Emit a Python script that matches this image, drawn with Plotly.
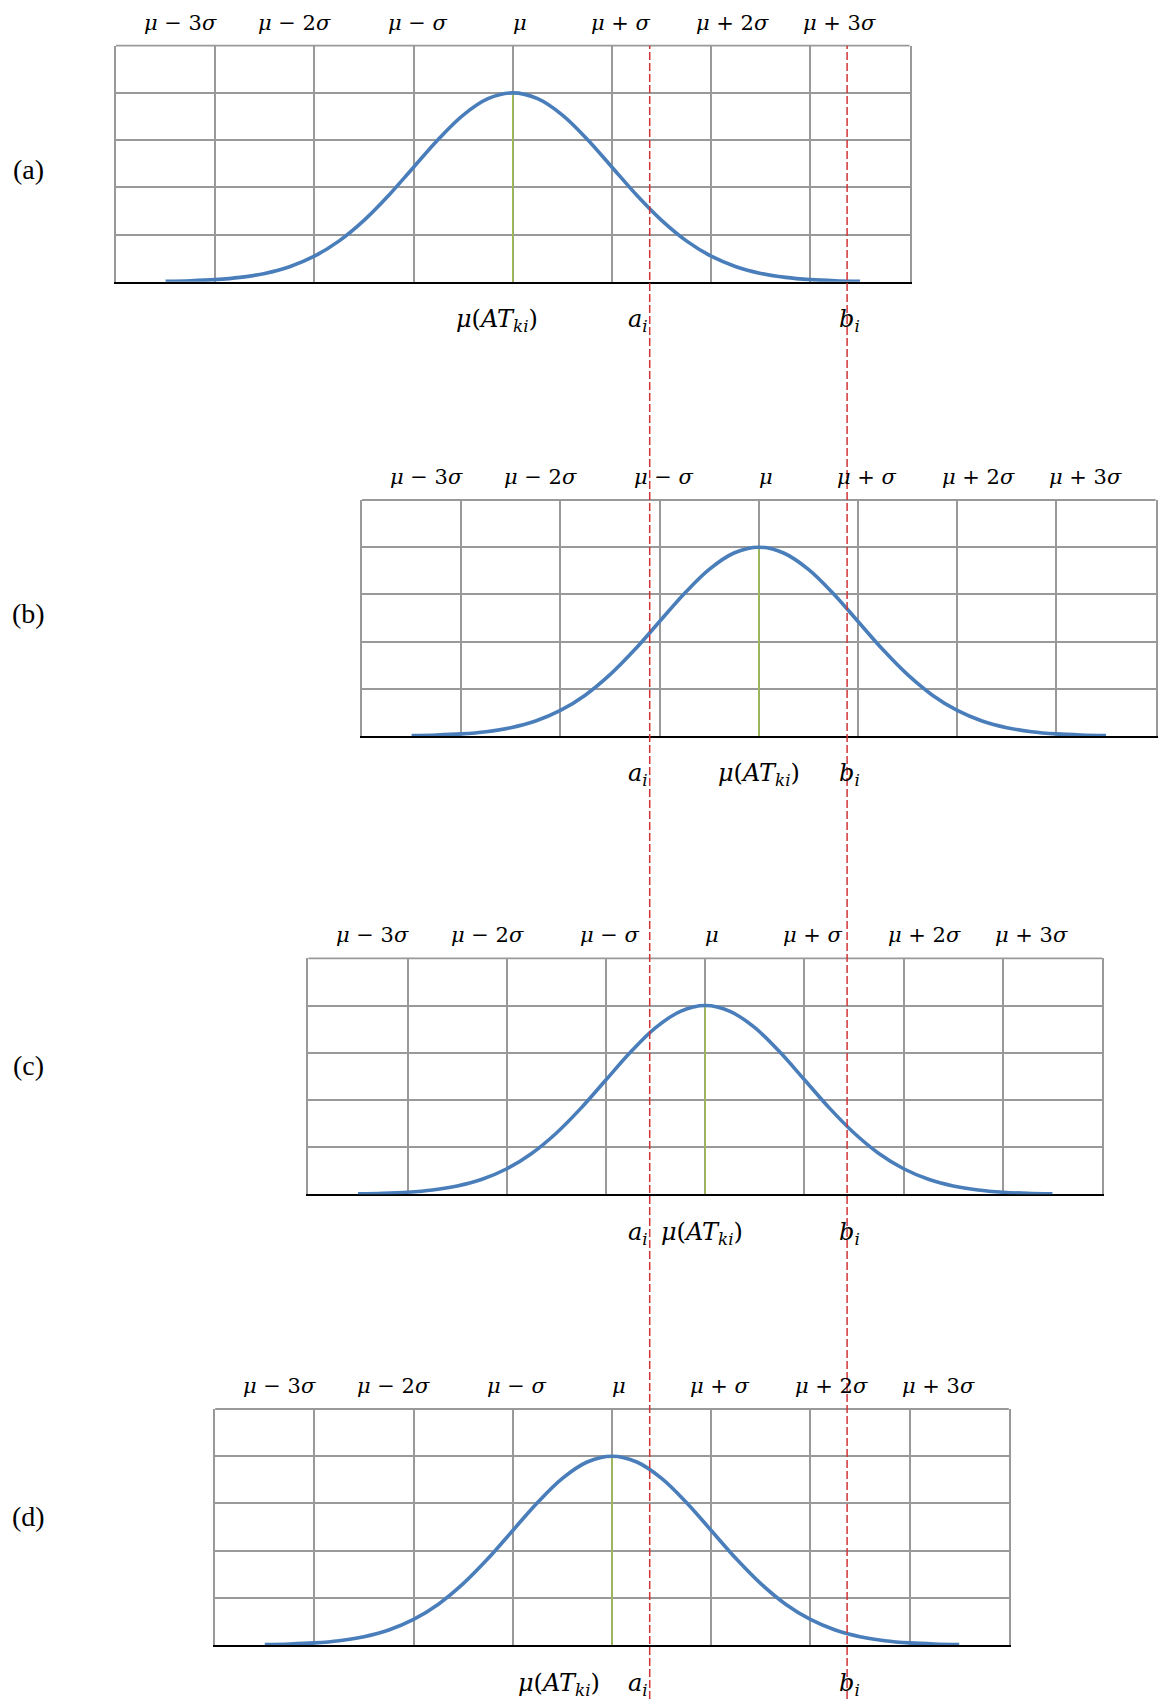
import plotly.graph_objects as go

# Bell curve profile: height (in grid rows) at offsets from the mean, in sigma units
sigma_offsets = [-3.5, -3.25, -3.0, -2.75, -2.5, -2.25, -2.0, -1.75, -1.5, -1.25,
                 -1.0, -0.75, -0.5, -0.25, 0.0, 0.25, 0.5, 0.75, 1.0, 1.25,
                 1.5, 1.75, 2.0, 2.25, 2.5, 2.75, 3.0, 3.25, 3.5]
curve_heights = [0.009, 0.020, 0.044, 0.091, 0.176, 0.318, 0.541, 0.865, 1.299, 1.831,
                 2.426, 3.019, 3.530, 3.877, 4.000, 3.877, 3.530, 3.019, 2.426, 1.831,
                 1.299, 0.865, 0.541, 0.318, 0.176, 0.091, 0.044, 0.020, 0.009]

# Four cases: mean of AT_ki relative to the fixed interval [a_i, b_i]
panel_names = ["(a)", "(b)", "(c)", "(d)"]
panel_means = [0.0, 2.48, 1.94, 1.0]
a_i = 1.38
b_i = 3.37

# Sigma labels along the top of every panel (offsets from the mean)
top_labels = [
    "<i>μ</i> − 3<i>σ</i>",
    "<i>μ</i> − 2<i>σ</i>",
    "<i>μ</i> − <i>σ</i>",
    "<i>μ</i>",
    "<i>μ</i> + <i>σ</i>",
    "<i>μ</i> + 2<i>σ</i>",
    "<i>μ</i> + 3<i>σ</i>",
]
top_label_offsets = [-3.35, -2.2, -0.96, 0.07, 1.09, 2.21, 3.29]

mean_label = "<i>μ</i>(<i>AT</i><sub><i>ki</i></sub>)"
a_label = "<i>a</i><sub><i>i</i></sub>"
b_label = "<i>b</i><sub><i>i</i></sub>"
mean_label_offsets = [-0.16, 0.0, -0.03, -0.53]
a_label_offset = -0.12
b_label_offset = 0.02

# Page geometry (pixels)
PAGE_W, PAGE_H = 1160, 1699
COL_PX = 99.2          # width of one sigma column
N_COLS, N_ROWS = 8, 5
BASE_LEFT = 116.0      # left edge of panel (a)
PANEL_TOPS = [45.7, 500.0, 958.3, 1409.0]
PANEL_H = 236.0
PANEL_LABEL_Y = [170.0, 614.0, 1065.0, 1516.0]

GRID = "#999999"
BLUE = "#4a7ebb"
GREEN = "#9fbf4a"
RED = "#cf3336"
MATH_FONT = "DejaVu Serif"

fig = go.Figure()
annotations = []
layout_axes = {}

for k, (name, mean) in enumerate(zip(panel_names, panel_means), start=1):
    xs = "" if k == 1 else str(k)
    xref, yref = "x" + xs, "y" + xs

    left = BASE_LEFT + (mean - panel_means[0]) * COL_PX
    right = left + N_COLS * COL_PX
    top = PANEL_TOPS[k - 1]
    bottom = top + PANEL_H

    layout_axes["xaxis" + xs] = dict(
        domain=[left / PAGE_W, right / PAGE_W],
        range=[mean - N_COLS / 2, mean + N_COLS / 2],
        tick0=mean, dtick=1, showgrid=True, gridcolor=GRID, gridwidth=1.6,
        showticklabels=False, ticks="", zeroline=False,
        showline=True, linecolor="black", linewidth=2.2, mirror=False,
        layer="below traces", anchor=yref, fixedrange=True,
    )
    layout_axes["yaxis" + xs] = dict(
        domain=[1 - bottom / PAGE_H, 1 - top / PAGE_H],
        range=[0, N_ROWS], tick0=0, dtick=1,
        showgrid=True, gridcolor=GRID, gridwidth=1.6,
        showticklabels=False, ticks="", zeroline=False,
        showline=True, linecolor=GRID, linewidth=1.6, mirror=True,
        layer="below traces", anchor=xref, fixedrange=True,
    )

    # top border of the grid
    fig.add_shape(type="line", xref=xref + " domain", yref=yref + " domain",
                  x0=0, x1=1, y0=1, y1=1, line=dict(color=GRID, width=1.8),
                  layer="below")

    # mean marker
    fig.add_trace(go.Scatter(
        x=[mean, mean], y=[0, max(curve_heights)], mode="lines",
        line=dict(color=GREEN, width=1.5), xaxis=xref, yaxis=yref,
        hoverinfo="skip", showlegend=False))

    # bell curve
    fig.add_trace(go.Scatter(
        x=[mean + o for o in sigma_offsets], y=curve_heights, mode="lines",
        line=dict(color=BLUE, width=3.6, shape="spline", smoothing=1.0),
        xaxis=xref, yaxis=yref, hoverinfo="skip", showlegend=False))

    # sigma labels on top
    for txt, off in zip(top_labels, top_label_offsets):
        annotations.append(dict(
            text=txt, x=mean + off, y=1, xref=xref, yref=yref + " domain",
            yshift=23, xanchor="center", yanchor="middle", showarrow=False,
            font=dict(family=MATH_FONT, size=21, color="black")))

    # labels under the baseline
    for txt, xv in [(mean_label, mean + mean_label_offsets[k - 1]),
                    (a_label, a_i + a_label_offset),
                    (b_label, b_i + b_label_offset)]:
        annotations.append(dict(
            text=txt, x=xv, y=0, xref=xref, yref=yref + " domain",
            yshift=-39, xanchor="center", yanchor="middle", showarrow=False,
            font=dict(family=MATH_FONT, size=24, color="black")))

    # panel tag
    annotations.append(dict(
        text=name, x=28 / PAGE_W, y=1 - PANEL_LABEL_Y[k - 1] / PAGE_H,
        xref="paper", yref="paper", xanchor="center", yanchor="middle",
        showarrow=False,
        font=dict(family="Liberation Serif", size=28, color="black")))

# interval bounds a_i and b_i, running down through all panels
for bound in (a_i, b_i):
    fig.add_shape(type="line", xref="x", yref="paper",
                  x0=bound, x1=bound, y0=0, y1=1 - PANEL_TOPS[0] / PAGE_H,
                  line=dict(color=RED, width=1.5, dash="8px,3px"),
                  layer="above")

fig.update_layout(
    width=PAGE_W, height=PAGE_H,
    margin=dict(l=0, r=0, t=0, b=0),
    paper_bgcolor="white", plot_bgcolor="white",
    showlegend=False, annotations=annotations,
    **layout_axes,
)

fig.write_html("out.html")
